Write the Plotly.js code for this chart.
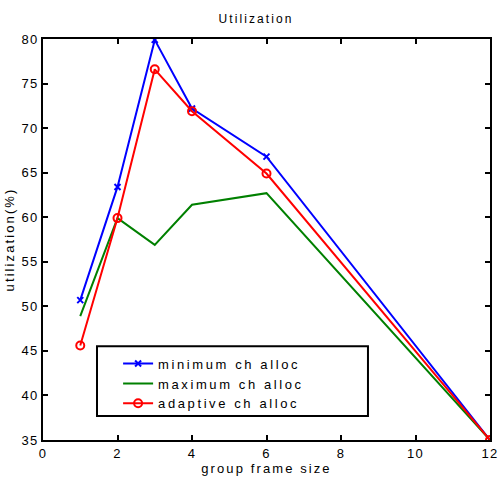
<!DOCTYPE html>
<html><head><meta charset="utf-8">
<script src="https://cdn.plot.ly/plotly-3.0.1.min.js"></script>
<style>
body{margin:0;background:#fff;}
svg text{letter-spacing:1.2px;}
svg text.legendtext{letter-spacing:2.6px;}
svg text.gtitle, svg text.xtitle, svg text.ytitle{letter-spacing:2.1px;}
</style>
</head><body>
<div id="chart" style="width:500px;height:482px;"></div>
<script>
const groupFrameSize = [1, 2, 3, 4, 6, 12];
const minimumAlloc = [50.7, 63.4, 79.9, 72.2, 66.8, 35.0];
const maximumAlloc = [48.9, 59.9, 56.9, 61.4, 62.7, 35.0];
const adaptiveAlloc = [45.6, 59.9, 76.6, 71.9, 64.9, 35.0];
const seriesNames = ['minimum ch alloc', 'maximum ch alloc', 'adaptive ch alloc'];
const xTicks = [0, 2, 4, 6, 8, 10, 12];
const yTicks = [35, 40, 45, 50, 55, 60, 65, 70, 75, 80];

const font = {family: 'Liberation Sans, Arial, sans-serif', size: 13, color: '#000'};
const traces = [
  {x: groupFrameSize, y: minimumAlloc, name: seriesNames[0], mode: 'lines+markers',
   line: {color: '#0000ff', width: 2}, marker: {symbol: 'x-thin-open', size: 6, color: '#0000ff', line: {color: '#0000ff', width: 2}}},
  {x: groupFrameSize, y: maximumAlloc, name: seriesNames[1], mode: 'lines',
   line: {color: '#008000', width: 2}},
  {x: groupFrameSize, y: adaptiveAlloc, name: seriesNames[2], mode: 'lines+markers',
   line: {color: '#ff0000', width: 2}, marker: {symbol: 'circle-open', size: 8, color: '#ff0000', line: {color: '#ff0000', width: 2}}}
];
const axisCommon = {showgrid: false, zeroline: false, showline: true, linecolor: '#000', linewidth: 2,
  mirror: 'ticks', ticks: 'inside', ticklen: 5, tickwidth: 2, tickcolor: '#000', tickfont: font};
const layout = {
  width: 500, height: 482,
  margin: {l: 43, r: 10, t: 39, b: 42},
  paper_bgcolor: '#fff', plot_bgcolor: '#fff',
  font: font,
  title: {text: 'Utilization', font: {family: font.family, size: 12, color: '#000'}, x: 0.512, xanchor: 'center', y: 0.97, yanchor: 'top'},
  xaxis: Object.assign({}, axisCommon, {range: [0, 12], tickvals: xTicks,
    title: {text: 'group frame size', font: font, standoff: 4}}),
  yaxis: Object.assign({}, axisCommon, {range: [35, 80], tickvals: yTicks,
    title: {text: 'utilization(%)', font: font, standoff: 4}}),
  shapes: [{type: 'rect', xref: 'paper', yref: 'paper', x0: 0.1208, x1: 0.727, y0: 0.06, y1: 0.234,
    line: {color: '#000', width: 2}, fillcolor: '#fff', layer: 'above'}],
  showlegend: true,
  legend: {x: 0.168, y: 0.228, xanchor: 'left', yanchor: 'top', bgcolor: 'rgba(0,0,0,0)', borderwidth: 0,
    font: font, itemwidth: 30, tracegroupgap: 0}
};
Plotly.newPlot('chart', traces, layout, {displayModeBar: false, staticPlot: true});
</script>
</body></html>
